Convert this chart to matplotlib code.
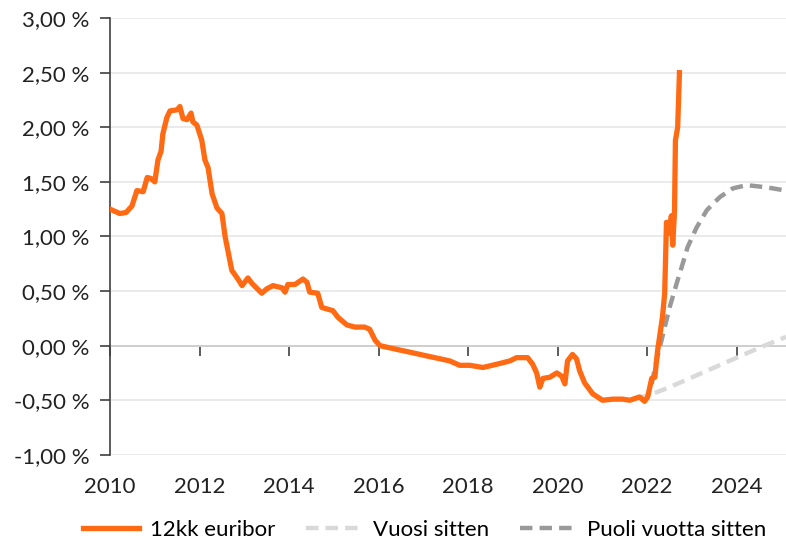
import matplotlib
matplotlib.use('Agg')
import matplotlib.pyplot as plt

plt.rcParams['font.family'] = ['Lato', 'DejaVu Sans']

# 12kk euribor (decimal year, %)
euribor_x = [2010.00, 2010.22, 2010.36, 2010.49, 2010.60, 2010.74, 2010.83, 2010.92, 2011.00,
             2011.07, 2011.14, 2011.18, 2011.27, 2011.34, 2011.50, 2011.56, 2011.63, 2011.72,
             2011.81, 2011.85, 2011.94, 2012.05, 2012.12, 2012.19, 2012.28, 2012.39, 2012.50,
             2012.57, 2012.72, 2012.84, 2012.95, 2013.08, 2013.17, 2013.39, 2013.50, 2013.64,
             2013.84, 2013.91, 2013.97, 2014.13, 2014.31, 2014.40, 2014.46, 2014.64, 2014.73,
             2014.98, 2015.09, 2015.29, 2015.47, 2015.69, 2015.80, 2015.92, 2016.03, 2016.25,
             2016.47, 2016.70, 2016.92, 2017.14, 2017.37, 2017.59, 2017.81, 2018.04, 2018.33,
             2018.64, 2018.93, 2019.08, 2019.33, 2019.44, 2019.53, 2019.60, 2019.67, 2019.82,
             2019.98, 2020.09, 2020.16, 2020.22, 2020.33, 2020.42, 2020.49, 2020.60, 2020.78,
             2021.00, 2021.23, 2021.45, 2021.61, 2021.83, 2021.94, 2022.01, 2022.10, 2022.17,
             2022.23, 2022.34, 2022.39, 2022.43, 2022.48, 2022.54, 2022.57, 2022.61, 2022.63,
             2022.68, 2022.72]
euribor_y = [1.25, 1.21, 1.22, 1.28, 1.42, 1.41, 1.54, 1.53, 1.50,
             1.70, 1.78, 1.94, 2.09, 2.15, 2.16, 2.19, 2.08, 2.07,
             2.13, 2.05, 2.02, 1.88, 1.70, 1.63, 1.39, 1.26, 1.21,
             1.00, 0.69, 0.62, 0.55, 0.62, 0.57, 0.48, 0.52, 0.55,
             0.53, 0.49, 0.56, 0.56, 0.61, 0.58, 0.49, 0.48, 0.35,
             0.32, 0.26, 0.19, 0.17, 0.17, 0.15, 0.05, 0.00, -0.02,
             -0.04, -0.06, -0.08, -0.10, -0.12, -0.14, -0.18, -0.18, -0.20,
             -0.17, -0.14, -0.11, -0.11, -0.17, -0.25, -0.38, -0.30, -0.29,
             -0.25, -0.28, -0.35, -0.14, -0.08, -0.12, -0.23, -0.34, -0.44,
             -0.50, -0.49, -0.49, -0.50, -0.47, -0.51, -0.47, -0.30, -0.29,
             -0.05, 0.26, 0.48, 1.13, 1.03, 1.19, 0.92, 1.24, 1.88,
             2.00, 2.50]

# forward curve a year ago
vuosi_x = [2021.75, 2022.0, 2022.5, 2023.0, 2023.5, 2024.0, 2024.5, 2025.1]
vuosi_y = [-0.48, -0.46, -0.38, -0.29, -0.20, -0.11, -0.02, 0.08]

# forward curve half a year ago
puoli_x = [2022.10, 2022.20, 2022.35, 2022.50, 2022.65, 2022.77, 2022.90, 2023.10, 2023.33,
           2023.62, 2023.91, 2024.22, 2024.67, 2025.1]
puoli_y = [-0.35, -0.15, 0.10, 0.35, 0.56, 0.72, 0.90, 1.08, 1.24,
           1.36, 1.44, 1.47, 1.45, 1.42]

x_ticks = [2010, 2012, 2014, 2016, 2018, 2020, 2022, 2024]
y_ticks = [-1.0, -0.5, 0.0, 0.5, 1.0, 1.5, 2.0, 2.5, 3.0]

fig = plt.figure(figsize=(7.86, 5.48), dpi=100)
ax = fig.add_axes([0.14, 0.17, 0.86, 0.797])

ax.plot(vuosi_x, vuosi_y, color='#d9d9d9', lw=3.2, ls=(0, (2.8, 1.6)), label='Vuosi sitten', zorder=2)
ax.plot(puoli_x, puoli_y, color='#999999', lw=3.2, ls=(0, (2.8, 1.6)), label='Puoli vuotta sitten', zorder=2)
ax.plot(euribor_x, euribor_y, color='#ff6a13', lw=3.8, label='12kk euribor', zorder=3,
        solid_joinstyle='round')

ax.set_xlim(2010, 2025.1)
ax.set_ylim(-1.0, 3.0)
ax.set_yticks(y_ticks)
ax.set_yticklabels([f'{v:.2f} %'.replace('.', ',') for v in y_ticks])
ax.set_xticks(x_ticks)
ax.set_xticklabels([str(t) for t in x_ticks])

ax.grid(axis='y', color='#e6e6e6', lw=1.2, zorder=0)
for s in ['top', 'right', 'bottom']:
    ax.spines[s].set_visible(False)
ax.spines['left'].set_color('#404040')
ax.spines['left'].set_linewidth(1.2)
ax.tick_params(axis='y', length=7, width=1.2, color='#404040', labelsize=16, pad=8, labelcolor='#222222')
ax.tick_params(axis='x', length=0, labelsize=16, pad=16, labelcolor='#222222')

# zero line with tick marks
sec = ax.secondary_xaxis(0.25)
sec.set_xticks(x_ticks)
sec.tick_params(axis='x', length=7, width=1.2, color='#404040', labelbottom=False)
sec.spines['bottom'].set_color('#404040')
sec.spines['bottom'].set_linewidth(1.2)

handles, labels = ax.get_legend_handles_labels()
order = [2, 0, 1]
fig.legend([handles[i] for i in order], [labels[i] for i in order], loc='lower center',
           bbox_to_anchor=(0.54, -0.022), ncol=3, frameon=False, fontsize=16,
           handlelength=2.5, columnspacing=1.4, handletextpad=0.5)

fig.savefig('out.png', dpi=100)
